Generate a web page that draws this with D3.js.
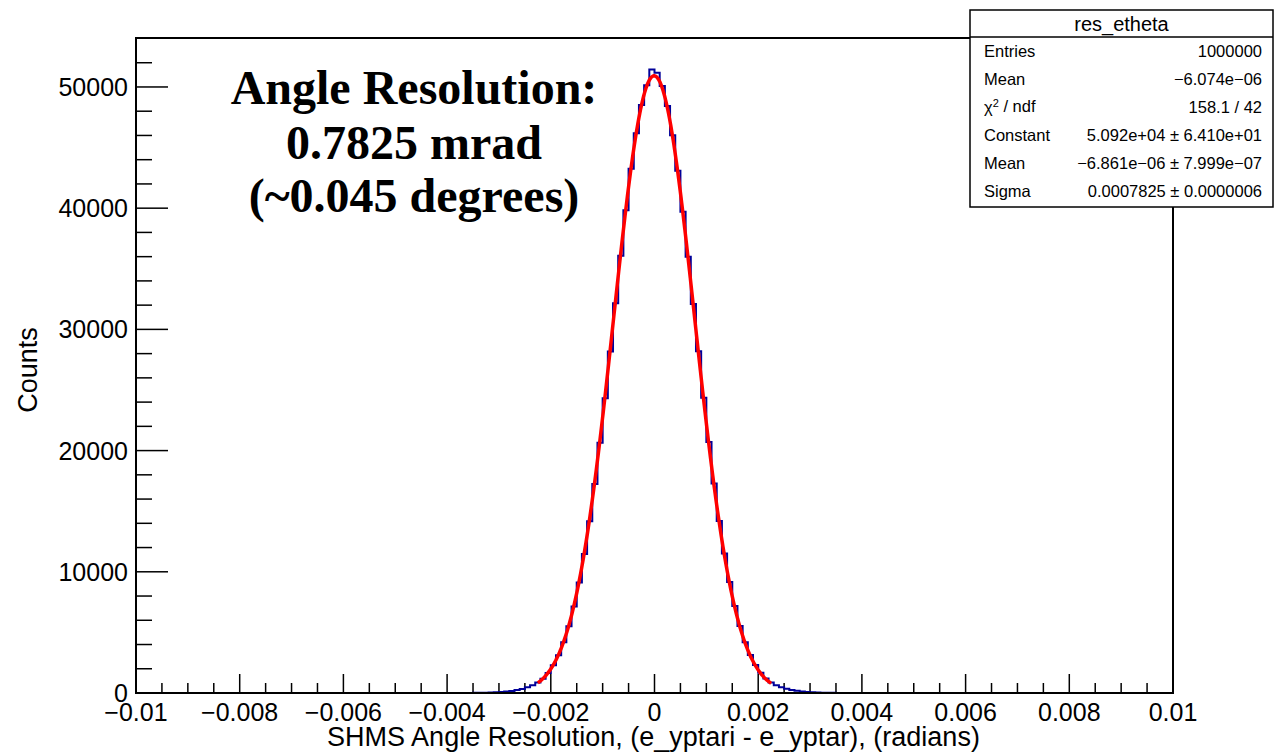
<!DOCTYPE html>
<html>
<head>
<meta charset="utf-8">
<script src="https://cdn.jsdelivr.net/npm/d3@7"></script>
<style>
  body { margin: 0; background: #fff; }
  text { font-family: "Liberation Sans", Arial, sans-serif; }
  text.note { font-family: "Liberation Serif", "Times New Roman", serif; font-weight: bold; }
</style>
</head>
<body>
<script>
// histogram: 200 bins from -0.01 to 0.01, only the populated window is listed
const binWidth = 0.0001;
const xRange = [-0.01, 0.01];
const windowStart = -0.0036;   // low edge of first listed bin
const counts = [
  8, 12, 18, 27, 40, 60, 88, 125, 175, 245, 340, 470, 640, 860,
  1180, 1660, 2290, 3120, 4180, 5500, 7140, 9120, 11470, 14180,
  17250, 20640, 24310, 28180, 32150, 36080, 39830, 43250, 46180,
  48520, 50150, 51450,
  51180, 50080, 48420, 46010, 43080, 39700, 35990, 32100, 28200,
  24350, 20700, 17280, 14200, 11500, 9150, 7170, 5520, 4190, 3130,
  2300, 1670, 1190, 870, 645, 475, 345, 250, 178, 126, 90, 62, 41,
  28, 19, 12, 8
];

// fit result (gaus) and its range
const fitConstant = 5.092e4;
const fitMean = -6.861e-6;
const fitSigma = 0.0007825;
const fitRange = [-0.00225, 0.00225];

const xTicks = [-0.01, -0.008, -0.006, -0.004, -0.002, 0, 0.002, 0.004, 0.006, 0.008, 0.01];
const xTickLabels = ["\u22120.01", "\u22120.008", "\u22120.006", "\u22120.004", "\u22120.002", "0", "0.002", "0.004", "0.006", "0.008", "0.01"];
const yTicks = [0, 10000, 20000, 30000, 40000, 50000];

const statsTitle = "res_etheta";
const statsRows = [
  ["Entries", "1000000"],
  ["Mean", "\u22126.074e\u221206"],
  ["chi", "158.1 / 42"],
  ["Constant", "5.092e+04 \u00b1 6.410e+01"],
  ["Mean", "\u22126.861e\u221206 \u00b1 7.999e\u221207"],
  ["Sigma", "0.0007825 \u00b1 0.0000006"]
];

const note = ["Angle Resolution:", "0.7825 mrad", "(~0.045 degrees)"];

const W = 1275, H = 752;
const m = {left: 136, right: 1173, top: 38, bottom: 693};

const svg = d3.select("body").append("svg")
  .attr("width", W).attr("height", H);

const x = d3.scaleLinear().domain(xRange).range([m.left, m.right]);
const y = d3.scaleLinear().domain([0, 54040]).range([m.bottom, m.top]);

// full list of bins
const nBins = Math.round((xRange[1] - xRange[0]) / binWidth);
const firstIdx = Math.round((windowStart - xRange[0]) / binWidth);
const bins = d3.range(nBins).map(i => {
  const j = i - firstIdx;
  return {lo: xRange[0] + i * binWidth, n: (j >= 0 && j < counts.length) ? counts[j] : 0};
});
const pts = bins.map(b => [b.lo, b.n]);
pts.push([xRange[1], bins[bins.length - 1].n]);

// ticks
const g = svg.append("g");
d3.range(0, 54000, 2000).forEach(v => {
  const major = v % 10000 === 0;
  g.append("line")
    .attr("x1", m.left).attr("x2", m.left + (major ? 32 : 16))
    .attr("y1", y(v)).attr("y2", y(v))
    .attr("stroke", "#000").attr("stroke-width", 1.5);
});
d3.range(-0.01, 0.01001, 0.0005).forEach(v => {
  const major = Math.abs(Math.round(v * 1e4) % 20) === 0;
  g.append("line")
    .attr("x1", x(v)).attr("x2", x(v))
    .attr("y1", m.bottom).attr("y2", m.bottom - (major ? 19 : 10))
    .attr("stroke", "#000").attr("stroke-width", 1.5);
});

// histogram outline
svg.append("path")
  .datum(pts)
  .attr("fill", "none")
  .attr("stroke", "#000099")
  .attr("stroke-width", 2)
  .attr("d", d3.line().x(d => x(d[0])).y(d => y(d[1])).curve(d3.curveStepAfter));

// fit curve
const fitPts = d3.range(fitRange[0], fitRange[1] + 1e-9, (fitRange[1] - fitRange[0]) / 300)
  .map(v => [v, fitConstant * Math.exp(-0.5 * Math.pow((v - fitMean) / fitSigma, 2))]);
svg.append("path")
  .datum(fitPts)
  .attr("fill", "none")
  .attr("stroke", "#ff0000")
  .attr("stroke-width", 3.5)
  .attr("d", d3.line().x(d => x(d[0])).y(d => y(d[1])));

// frame
svg.append("rect")
  .attr("x", m.left).attr("y", m.top)
  .attr("width", m.right - m.left).attr("height", m.bottom - m.top)
  .attr("fill", "none").attr("stroke", "#000").attr("stroke-width", 2);

// tick labels
svg.selectAll(".ylab").data(yTicks).enter().append("text")
  .attr("x", 128).attr("y", d => y(d))
  .attr("dy", "0.36em")
  .attr("text-anchor", "end")
  .attr("font-size", 25)
  .text(d => d);

svg.selectAll(".xlab").data(xTicks).enter().append("text")
  .attr("x", d => x(d)).attr("y", 721)
  .attr("text-anchor", "middle")
  .attr("font-size", 25)
  .text((d, i) => xTickLabels[i]);

// axis titles
svg.append("text")
  .attr("x", (m.left + m.right) / 2 - 1).attr("y", 746)
  .attr("text-anchor", "middle")
  .attr("font-size", 27)
  .text("SHMS Angle Resolution, (e_yptari - e_yptar), (radians)");

svg.append("text")
  .attr("transform", "translate(37,370) rotate(-90)")
  .attr("text-anchor", "middle")
  .attr("font-size", 27)
  .text("Counts");

// big annotation
svg.selectAll(".note").data(note).enter().append("text")
  .attr("class", "note")
  .attr("x", 414).attr("y", (d, i) => [104, 159, 212][i])
  .attr("text-anchor", "middle")
  .attr("font-size", 48)
  .text(d => d);

// stats box
const sb = {x: 970, y: 10, w: 303, h: 197, head: 27};
svg.append("rect")
  .attr("x", sb.x).attr("y", sb.y).attr("width", sb.w).attr("height", sb.h)
  .attr("fill", "#fff").attr("stroke", "#000").attr("stroke-width", 1.5);
svg.append("line")
  .attr("x1", sb.x).attr("x2", sb.x + sb.w)
  .attr("y1", sb.y + sb.head).attr("y2", sb.y + sb.head)
  .attr("stroke", "#000").attr("stroke-width", 1.5);
svg.append("text")
  .attr("x", sb.x + sb.w / 2).attr("y", sb.y + 21)
  .attr("text-anchor", "middle").attr("font-size", 20)
  .text(statsTitle);

statsRows.forEach((r, i) => {
  const cy = 51 + i * 28;
  const lab = svg.append("text")
    .attr("x", sb.x + 14).attr("y", cy).attr("dy", "0.36em")
    .attr("font-size", 16.5);
  if (r[0] === "chi") {
    lab.append("tspan").text("\u03c7");
    lab.append("tspan").attr("font-size", 11).attr("dy", "-0.5em").text("2");
    lab.append("tspan").attr("dy", "0.3em").text(" / ndf");
  } else {
    lab.text(r[0]);
  }
  svg.append("text")
    .attr("x", sb.x + sb.w - 11).attr("y", cy).attr("dy", "0.36em")
    .attr("text-anchor", "end").attr("font-size", 16.5)
    .text(r[1]);
});
</script>
</body>
</html>
